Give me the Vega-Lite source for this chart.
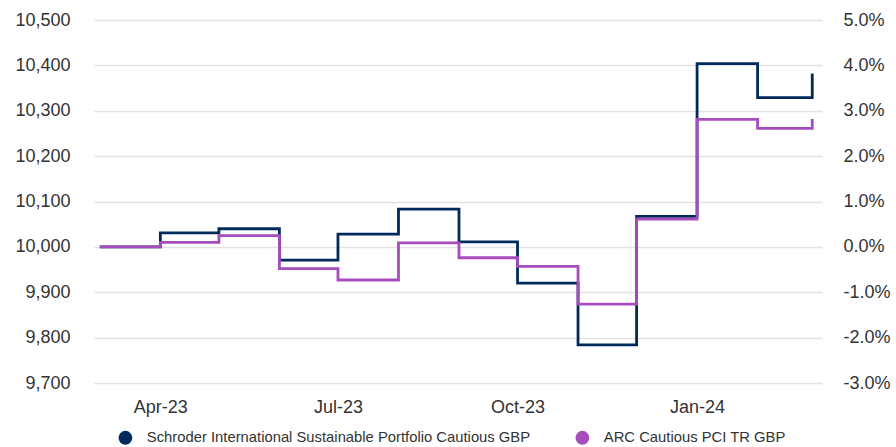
{
  "$schema": "https://vega.github.io/schema/vega-lite/v6.json",
  "width": 728,
  "height": 363,
  "autosize": {"type": "none"},
  "padding": {"left": 94, "top": 20, "right": 74, "bottom": 64},
  "config": {
    "view": {"stroke": null},
    "font": "Liberation Sans",
    "axis": {"labelFont": "Liberation Sans", "labelColor": "#333333", "labelFontSize": 18}
  },
  "data": {
    "values": [
      {"date": "2023-03-01", "series": "Schroder International Sustainable Portfolio Cautious GBP", "value": 10000},
      {"date": "2023-04-01", "series": "Schroder International Sustainable Portfolio Cautious GBP", "value": 10031},
      {"date": "2023-05-01", "series": "Schroder International Sustainable Portfolio Cautious GBP", "value": 10040},
      {"date": "2023-06-01", "series": "Schroder International Sustainable Portfolio Cautious GBP", "value": 9971},
      {"date": "2023-07-01", "series": "Schroder International Sustainable Portfolio Cautious GBP", "value": 10028},
      {"date": "2023-08-01", "series": "Schroder International Sustainable Portfolio Cautious GBP", "value": 10083},
      {"date": "2023-09-01", "series": "Schroder International Sustainable Portfolio Cautious GBP", "value": 10011},
      {"date": "2023-10-01", "series": "Schroder International Sustainable Portfolio Cautious GBP", "value": 9920},
      {"date": "2023-11-01", "series": "Schroder International Sustainable Portfolio Cautious GBP", "value": 9784},
      {"date": "2023-12-01", "series": "Schroder International Sustainable Portfolio Cautious GBP", "value": 10067},
      {"date": "2024-01-01", "series": "Schroder International Sustainable Portfolio Cautious GBP", "value": 10404},
      {"date": "2024-02-01", "series": "Schroder International Sustainable Portfolio Cautious GBP", "value": 10329},
      {"date": "2024-02-29", "series": "Schroder International Sustainable Portfolio Cautious GBP", "value": 10382},
      {"date": "2023-03-01", "series": "ARC Cautious PCI TR GBP", "value": 10000},
      {"date": "2023-04-01", "series": "ARC Cautious PCI TR GBP", "value": 10010},
      {"date": "2023-05-01", "series": "ARC Cautious PCI TR GBP", "value": 10025},
      {"date": "2023-06-01", "series": "ARC Cautious PCI TR GBP", "value": 9952},
      {"date": "2023-07-01", "series": "ARC Cautious PCI TR GBP", "value": 9927},
      {"date": "2023-08-01", "series": "ARC Cautious PCI TR GBP", "value": 10009},
      {"date": "2023-09-01", "series": "ARC Cautious PCI TR GBP", "value": 9976},
      {"date": "2023-10-01", "series": "ARC Cautious PCI TR GBP", "value": 9957},
      {"date": "2023-11-01", "series": "ARC Cautious PCI TR GBP", "value": 9874},
      {"date": "2023-12-01", "series": "ARC Cautious PCI TR GBP", "value": 10061},
      {"date": "2024-01-01", "series": "ARC Cautious PCI TR GBP", "value": 10281},
      {"date": "2024-02-01", "series": "ARC Cautious PCI TR GBP", "value": 10261},
      {"date": "2024-02-29", "series": "ARC Cautious PCI TR GBP", "value": 10282}
    ]
  },
  "encoding": {
    "x": {
      "field": "date",
      "type": "temporal",
      "scale": {"type": "utc", "domain": [{"year": 2023, "month": 2, "date": 26, "utc": true}, {"year": 2024, "month": 3, "date": 5, "utc": true}]},
      "axis": {
        "title": null,
        "labelExpr": "utcFormat(datum.value, '%b-%y')",
        "values": [
          {"year": 2023, "month": 4, "date": 1, "utc": true},
          {"year": 2023, "month": 7, "date": 1, "utc": true},
          {"year": 2023, "month": 10, "date": 1, "utc": true},
          {"year": 2024, "month": 1, "date": 1, "utc": true}
        ],
        "domain": false,
        "ticks": false,
        "grid": false,
        "labelPadding": 15,
        "labelFontSize": 18
      }
    },
    "color": {
      "field": "series",
      "type": "nominal",
      "scale": {
        "domain": ["Schroder International Sustainable Portfolio Cautious GBP", "ARC Cautious PCI TR GBP"],
        "range": ["#002a5c", "#a64cbd"]
      },
      "legend": {
        "title": null,
        "orient": "none",
        "legendX": 24,
        "legendY": 410,
        "direction": "horizontal",
        "symbolType": "circle",
        "symbolSize": 190,
        "symbolStrokeWidth": 0,
        "labelFontSize": 14.8,
        "labelColor": "#333333",
        "labelLimit": 600,
        "labelOffset": 14,
        "columnPadding": 44,
        "encode": {
          "symbols": {"update": {"fill": {"scale": "color", "field": "value"}, "fillOpacity": {"value": 1}, "size": {"value": 190}}}
        }
      }
    }
  },
  "layer": [
    {
      "transform": [{"filter": "datum.series === 'Schroder International Sustainable Portfolio Cautious GBP'"}],
      "mark": {"type": "line", "interpolate": "step-after", "strokeWidth": 2.8},
      "encoding": {
        "y": {
          "field": "value",
          "type": "quantitative",
          "scale": {"domain": [9700, 10500], "zero": false, "nice": false},
          "axis": {
            "title": null,
            "values": [9700, 9800, 9900, 10000, 10100, 10200, 10300, 10400, 10500],
            "format": ",d",
            "domain": false,
            "ticks": false,
            "grid": true,
            "gridColor": "#e2e2e2",
            "gridWidth": 1.5,
            "labelPadding": 24
          }
        }
      }
    },
    {
      "transform": [{"filter": "datum.series === 'ARC Cautious PCI TR GBP'"}],
      "mark": {"type": "line", "interpolate": "step-after", "strokeWidth": 2.8},
      "encoding": {
        "y": {
          "field": "value",
          "type": "quantitative",
          "scale": {"domain": [9700, 10500], "zero": false, "nice": false},
          "axis": {
            "orient": "right",
            "title": null,
            "values": [9700, 9800, 9900, 10000, 10100, 10200, 10300, 10400, 10500],
            "labelExpr": "replace(format((datum.value - 10000) / 10000, '.1%'), '\u2212', '-')",
            "domain": false,
            "ticks": false,
            "grid": false,
            "labelPadding": 21
          }
        }
      }
    }
  ],
  "resolve": {"axis": {"y": "independent"}}
}
